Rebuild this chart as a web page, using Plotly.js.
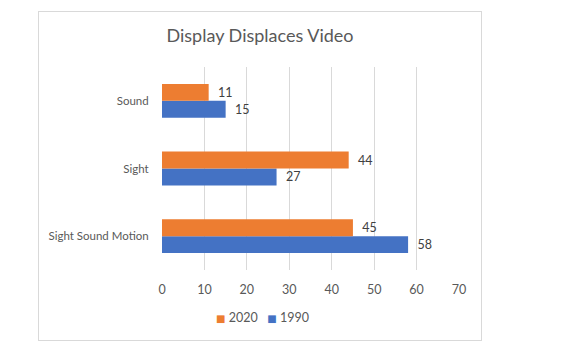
<!DOCTYPE html>
<html><head><meta charset="utf-8">
<script src="https://cdn.plot.ly/plotly-3.0.1.min.js"></script>
<style>
html,body{margin:0;padding:0;background:#fff;width:563px;height:356px;overflow:hidden;}
#frame{position:absolute;left:38px;top:11px;width:444px;height:330px;border:1px solid #d9d9d9;box-sizing:border-box;}
#chart{width:442px;height:328px;}
</style></head>
<body>
<div id="frame"><div id="chart"></div></div>
<script>
const categories = ['Sight Sound Motion', 'Sight', 'Sound'];
const values1990 = [58, 27, 15];
const values2020 = [45, 44, 11];
const seriesNames = ['1990', '2020'];
const seriesColors = ['#4472C4', '#ED7D31'];
const xTicks = [0, 10, 20, 30, 40, 50, 60, 70];

const FONT = 'Lato, "Open Sans", sans-serif';
const traces = [
  {type:'bar', orientation:'h', name:seriesNames[0], y:categories, x:values1990,
   marker:{color:seriesColors[0]}, texttemplate:'\u00a0\u00a0%{x}', textposition:'outside',
   cliponaxis:false, textfont:{family:FONT, size:12.5, color:'#404040'}, hoverinfo:'none'},
  {type:'bar', orientation:'h', name:seriesNames[1], y:categories, x:values2020,
   marker:{color:seriesColors[1]}, texttemplate:'\u00a0\u00a0%{x}', textposition:'outside',
   cliponaxis:false, textfont:{family:FONT, size:12.5, color:'#404040'}, hoverinfo:'none'}
];
// legend drawn as text (2020 first, then 1990)
const legendText = [1, 0].map(i =>
  '<span style="color:' + seriesColors[i] + ';font-family:DejaVu Sans;font-size:10px">\u25A0\u00a0</span>' + seriesNames[i]
).join('\u00a0\u00a0\u00a0');

const layout = {
  width:442, height:328,
  margin:{l:123, r:22, t:55, b:70},
  paper_bgcolor:'#fff', plot_bgcolor:'#fff',
  font:{family:FONT, color:'#595959', size:12},
  title:{text:'Display Displaces Video', font:{family:FONT, size:18, color:'#595959'},
         x:0.5, xref:'container', xanchor:'center', y:0.927, yref:'container', yanchor:'middle'},
  barmode:'group', bargap:0.5, bargroupgap:0,
  xaxis:{range:[0,70], tickvals:xTicks, showgrid:true, gridcolor:'#d9d9d9', gridwidth:1,
         zeroline:false, showline:false, ticks:'outside', ticklen:8, tickcolor:'rgba(0,0,0,0)',
         tickfont:{family:FONT, size:12.5, color:'#595959'}, fixedrange:true},
  yaxis:{type:'category', categoryorder:'array', categoryarray:categories,
         showgrid:false, zeroline:false, showline:false, ticks:'outside', ticklen:10,
         tickcolor:'rgba(0,0,0,0)', tickfont:{family:FONT, size:11.5, color:'#595959'}, fixedrange:true},
  showlegend:false,
  annotations:[{text:legendText, xref:'paper', yref:'paper', x:0.337, y:-0.236,
                xanchor:'center', yanchor:'middle', showarrow:false,
                font:{family:FONT, size:12.5, color:'#595959'}}]
};
Plotly.newPlot('chart', traces, layout, {displayModeBar:false, staticPlot:true});
</script>
</body></html>
